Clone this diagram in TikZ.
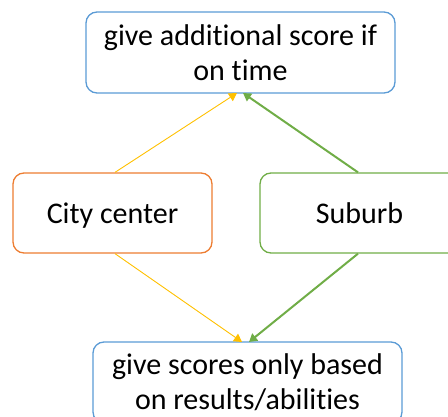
\documentclass[tikz,border=0pt]{standalone}
\usepackage{fontspec}
\setmainfont[Ligatures={NoCommon}]{Carlito}
\usetikzlibrary{arrows.meta}
\definecolor{bblue}{HTML}{5B9BD5}
\definecolor{borange}{HTML}{ED7D31}
\definecolor{bgreen}{HTML}{70AD47}
\definecolor{byellow}{HTML}{FFC000}
\tikzset{
  box/.style={draw, line width=1.3pt, rounded corners=11pt, minimum height=80pt, align=center, inner sep=0pt, font=\fontsize{30}{35}\selectfont},
  oneline/.style={text height=29pt, text depth=7pt},
  yarrow/.style={draw=byellow, line width=0.9pt, -{Triangle[length=8pt,width=9pt]}},
  garrow/.style={draw=bgreen, line width=2pt, -{Triangle[length=8pt,width=9pt]}}
}
\begin{document}
\begin{tikzpicture}[x=1pt,y=1pt]
\useasboundingbox (0,0) rectangle (448,416);
\clip (0,0) rectangle (448,416);
\node[box, draw=bblue, minimum width=309pt, minimum height=81pt] (top) at (240.5,363.5) {give additional score if\\on time};
\node[box, oneline, draw=borange, minimum width=199pt] (city) at (112.5,203) {City center};
\node[box, oneline, draw=bgreen, minimum width=199pt] (sub) at (359.5,203) {Suburb};
\node[box, draw=bblue, minimum width=309pt, minimum height=81pt] (bot) at (247.5,33.5) {give scores only based\\on results/abilities};
\coordinate (tl) at (237,323);
\coordinate (tr) at (243,323);
\coordinate (bl) at (242,74);
\coordinate (br) at (249,74);
\draw[yarrow] (city.north -| 115,0) -- (tl);
\draw[garrow] (sub.north -| 358,0) -- (tr);
\draw[yarrow] (city.south -| 115,0) -- (bl);
\draw[garrow] (sub.south -| 358,0) -- (br);
\end{tikzpicture}
\end{document}
